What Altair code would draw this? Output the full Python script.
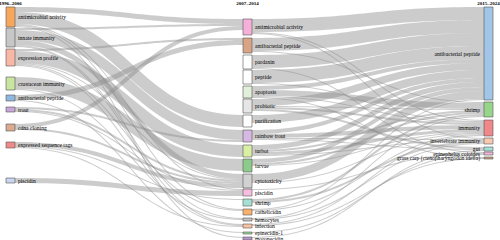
import altair as alt
import pandas as pd
import numpy as np

# ---------------- data ----------------
periods = ["1996–2006", "2007–2014", "2015–2024"]

col1_names = ["antimicrobial activity", "innate immunity", "expression profile",
              "crustacean immunity", "antibacterial peptide", "trout", "cdna cloning",
              "expressed sequence tags", "piscidin"]
col1_size = [20, 19, 17, 13, 6, 5, 7, 6, 5]

col2_names = ["antimicrobial activity", "antibacterial peptide", "pardaxin", "peptide",
              "apoptosis", "probiotic", "purification", "rainbow trout", "turbot", "larvae",
              "cytotoxicity", "piscidin", "shrimp", "cathelicidin", "hemocytes", "infection",
              "epinecidin-1", "moronecidin"]
col2_size = [16, 15, 14, 14, 12, 14, 12, 12, 12, 13, 14, 7, 7, 6, 3, 4, 2, 3]

col3_names = ["antibacterial peptide", "shrimp", "immunity", "invertebrate immunity", "gut",
              "epinephelus coioides", "grass carp (ctenopharyngodon idella)"]
col3_size = [93, 15, 16, 6, 4, 3, 2]

# links 1996–2006 -> 2007–2014
s1_src = ["antimicrobial activity"] * 5 + ["innate immunity"] * 5 + ["expression profile"] * 5 + \
         ["crustacean immunity"] * 2 + ["antibacterial peptide"] * 2 + ["trout"] * 3 + \
         ["cdna cloning"] * 2 + ["expressed sequence tags"] * 3 + ["piscidin"]
s1_tgt = ["antimicrobial activity", "purification", "piscidin", "cathelicidin", "moronecidin",
          "antimicrobial activity", "rainbow trout", "cytotoxicity", "hemocytes", "infection",
          "antibacterial peptide", "turbot", "cytotoxicity", "cathelicidin", "infection",
          "larvae", "hemocytes",
          "antibacterial peptide", "epinecidin-1",
          "rainbow trout", "cytotoxicity", "piscidin",
          "antimicrobial activity", "cytotoxicity",
          "cytotoxicity", "shrimp", "infection",
          "piscidin"]
s1_val = [5, 12, 1, 1, 1,
          2, 10, 5, 1, 1,
          2, 12, 1, 1, 1,
          12, 1,
          5, 1,
          2, 2, 1,
          4, 2,
          4, 1, 1,
          5]

# links 2007–2014 -> 2015–2024
s2_src = ["antimicrobial activity"] * 3 + ["antibacterial peptide"] * 2 + ["pardaxin"] * 2 + \
         ["peptide"] * 2 + ["apoptosis"] * 4 + ["probiotic"] * 4 + ["purification"] + \
         ["rainbow trout"] * 4 + ["turbot"] * 4 + ["larvae"] * 3 + ["cytotoxicity"] * 2 + \
         ["piscidin"] + ["shrimp"] * 2 + ["cathelicidin"] * 2 + ["hemocytes"] * 2 + \
         ["infection"] * 2 + ["epinecidin-1"] + ["moronecidin"]
s2_tgt = ["antibacterial peptide", "immunity", "invertebrate immunity",
          "antibacterial peptide", "shrimp",
          "antibacterial peptide", "epinephelus coioides",
          "antibacterial peptide", "immunity",
          "antibacterial peptide", "shrimp", "immunity", "grass carp (ctenopharyngodon idella)",
          "antibacterial peptide", "shrimp", "gut", "immunity",
          "antibacterial peptide",
          "antibacterial peptide", "immunity", "gut", "invertebrate immunity",
          "antibacterial peptide", "immunity", "shrimp", "invertebrate immunity",
          "antibacterial peptide", "shrimp", "immunity",
          "antibacterial peptide", "immunity",
          "epinephelus coioides",
          "shrimp", "invertebrate immunity",
          "antibacterial peptide", "immunity",
          "shrimp", "invertebrate immunity",
          "immunity", "grass carp (ctenopharyngodon idella)",
          "epinephelus coioides",
          "gut"]
s2_val = [13, 1, 1,
          13, 1,
          13, 1,
          13, 1,
          4, 6, 1, 1,
          7, 1, 2, 2,
          8,
          4, 4, 1, 1,
          5, 3, 2, 1,
          4, 2, 1,
          8, 1,
          1,
          2, 2,
          1, 1,
          1, 1,
          1, 1,
          1,
          1]

# ---------------- layout (sankey node placement) ----------------
col_x = [6, 243, 484]
node_w = 9
col1_top = [7, 28, 49, 77, 95, 107, 124, 142, 178]
col2_top = [19, 38, 55, 70, 86, 99, 115, 130, 145, 159, 174, 189, 199, 209, 218, 224, 232, 237]
col3_top = [7, 102, 120, 138, 147, 152, 157]

col1_color = ["#f7a75c", "#c7c7c7", "#f8b8a6", "#c9e6a0", "#8fb8e0", "#c7a6d8", "#d9aa90",
              "#f08a8a", "#c8d6f0"]
col2_color = ["#f5b0da", "#d9a486", "#ffffff", "#ffffff", "#e2f0da", "#e6e6e6", "#ffffff",
              "#d6b8e2", "#d9efa3", "#8ccb8c", "#d2d2d2", "#f7bde0", "#a6e0d2", "#f8b06e",
              "#c4c4c4", "#f9c3a3", "#97d697", "#b597c9"]
col3_color = ["#a2c5e8", "#97d68a", "#f0878a", "#f8c8b0", "#a6e0d6", "#f0b8d8", "#c9a07e"]

nodes = {}
node_rows = []
for c, (names, tops, sizes, cols) in enumerate([
        (col1_names, col1_top, col1_size, col1_color),
        (col2_names, col2_top, col2_size, col2_color),
        (col3_names, col3_top, col3_size, col3_color)]):
    for n, t, s, colr in zip(names, tops, sizes, cols):
        key = f"{c}|{n}"
        nodes[(c, n)] = dict(top=t, size=s)
        node_rows.append(dict(key=key, name=n, col=c, x0=col_x[c], x1=col_x[c] + node_w,
                              y0=t, y1=t + s, yc=t + s / 2, color=colr,
                              lx=col_x[c] + node_w + 3 if c < 2 else col_x[c] - 4))
nodes_df = pd.DataFrame(node_rows)

links = []
for c, (src, tgt, val) in enumerate([(s1_src, s1_tgt, s1_val), (s2_src, s2_tgt, s2_val)]):
    for a, b, v in zip(src, tgt, val):
        links.append(dict(s=(c, a), t=(c + 1, b), v=v))

for k in nodes:
    outs = sorted([l for l in links if l["s"] == k], key=lambda l: nodes[l["t"]]["top"])
    y = nodes[k]["top"]
    for l in outs:
        l["sy"] = y + l["v"] / 2
        y += l["v"]
    ins = sorted([l for l in links if l["t"] == k], key=lambda l: nodes[l["s"]]["top"])
    y = nodes[k]["top"]
    for l in ins:
        l["ty"] = y + l["v"] / 2
        y += l["v"]

# link ribbons: horizontal bezier centre line, stroke-like (perpendicular) thickness
u = np.linspace(0, 1, 41)
link_rows = []
for i, l in enumerate(links):
    c = l["s"][0]
    xa = col_x[c] + node_w
    xb = col_x[c + 1]
    dy = l["ty"] - l["sy"]
    xs = xa + (xb - xa) * (1.5 * u * (1 - u) + u ** 3)
    ys = l["sy"] + dy * (3 * u ** 2 - 2 * u ** 3)
    dxdu = (xb - xa) * (1.5 * (1 - 2 * u) + 3 * u ** 2)
    dydu = dy * (6 * u - 6 * u ** 2)
    half = (l["v"] / 2) * np.sqrt(1 + (dydu / dxdu) ** 2)
    for xv, yv, hv in zip(xs, ys, half):
        link_rows.append(dict(link=i, x=float(xv), top=float(yv - hv), bot=float(yv + hv)))
links_df = pd.DataFrame(link_rows)

head_df = pd.DataFrame(dict(label=periods,
                            x=[col_x[i] + node_w / 2 for i in range(3)],
                            y=[2.5, 2.5, 2.5]))

xs_ = alt.Scale(domain=[0, 500], nice=False, zero=False)
ys_ = alt.Scale(domain=[0, 240], nice=False, zero=False, reverse=True)

link_layer = alt.Chart(links_df).mark_area(color="#8a8a8a", opacity=0.44, strokeWidth=0).encode(
    x=alt.X("x:Q", scale=xs_, axis=None),
    y=alt.Y("top:Q", scale=ys_, axis=None),
    y2="bot:Q",
    detail="link:N",
)

node_layer = alt.Chart(nodes_df).mark_rect(stroke="#555555", strokeWidth=0.6).encode(
    x=alt.X("x0:Q", scale=xs_, axis=None),
    x2="x1:Q",
    y=alt.Y("y0:Q", scale=ys_, axis=None),
    y2="y1:Q",
    color=alt.Color("key:N", scale=alt.Scale(domain=list(nodes_df["key"]),
                                             range=list(nodes_df["color"])), legend=None),
)

font = "Liberation Serif"
lab_left = alt.Chart(nodes_df).transform_filter("datum.col < 2").mark_text(
    align="left", baseline="middle", font=font, fontSize=5.6, color="#000000").encode(
    x=alt.X("lx:Q", scale=xs_, axis=None),
    y=alt.Y("yc:Q", scale=ys_, axis=None),
    text="name:N",
)
lab_right = alt.Chart(nodes_df).transform_filter("datum.col == 2").mark_text(
    align="right", baseline="middle", font=font, fontSize=5.6, color="#000000").encode(
    x=alt.X("lx:Q", scale=xs_, axis=None),
    y=alt.Y("yc:Q", scale=ys_, axis=None),
    text="name:N",
)
heads = alt.Chart(head_df).mark_text(
    align="center", baseline="middle", font=font, fontSize=5, fontWeight="bold",
    color="#000000").encode(
    x=alt.X("x:Q", scale=xs_, axis=None),
    y=alt.Y("y:Q", scale=ys_, axis=None),
    text="label:N",
)

chart = alt.layer(link_layer, node_layer, lab_left, lab_right, heads).properties(
    width=500, height=240, padding=0, autosize=alt.AutoSizeParams(type="none"),
    background="white",
).configure_view(stroke=None)

chart.save("out.html", embed_options={"renderer": "svg", "actions": False})
